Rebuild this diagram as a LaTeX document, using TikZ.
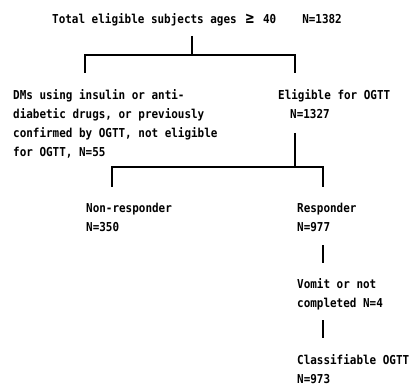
\documentclass[tikz,border=0pt]{standalone}
\usepackage{fontspec}
\newfontfamily\chartfont{DejaVu Sans Mono}[FakeStretch=0.89]
\tikzset{
  lbl/.style={font=\chartfont\bfseries\fontsize{12.3}{19}\selectfont, inner sep=0pt, align=left, anchor=north west},
  conn/.style={line width=1.9pt, line join=miter, black}
}
\begin{document}
\begin{tikzpicture}[x=1pt,y=1pt]
\useasboundingbox[fill=white] (0,0) rectangle (410,-385);
% text nodes
\node[lbl, anchor=base west] (title) at (52,-23.5) {Total eligible subjects ages \makebox[13.2pt]{\fontsize{16}{19}\selectfont ≥} 40\hspace{26pt}N=1382};
\node[lbl] (excl) at (13,-89.2) {DMs using insulin or anti-\\diabetic drugs, or previously\\confirmed by OGTT, not eligible\\for OGTT, N=55};
\node[lbl] (elig) at (278,-89.2) {Eligible for OGTT\\\hspace*{12pt}N=1327};
\node[lbl] (nonresp) at (86,-203.2) {Non-responder\\N=350};
\node[lbl] (resp) at (297,-203.2) {Responder\\N=977};
\node[lbl] (vomit) at (297,-278.2) {Vomit or not\\completed N=4};
\node[lbl] (classif) at (297,-354.2) {Classifiable OGTT\\N=973};
% connector points
\coordinate (t0) at (192,-36);
\coordinate (j1) at (192,-55);
\coordinate (a1) at (85,-73);
\coordinate (b1) at (295,-73);
\coordinate (e0) at (295,-133);
\coordinate (j2) at (295,-167);
\coordinate (a2) at (112,-187);
\coordinate (b2) at (323,-187);
\coordinate (r0) at (323,-245);
\coordinate (r1) at (323,-263);
\coordinate (v0) at (323,-320);
\coordinate (v1) at (323,-338);
% connectors
\draw[conn] (t0) -- (j1);
\draw[conn] (a1) |- (j1) -| (b1);
\draw[conn] (e0) -- (j2);
\draw[conn] (a2) |- (j2) -| (b2);
\draw[conn] (r0) -- (r1);
\draw[conn] (v0) -- (v1);
\end{tikzpicture}
\end{document}
